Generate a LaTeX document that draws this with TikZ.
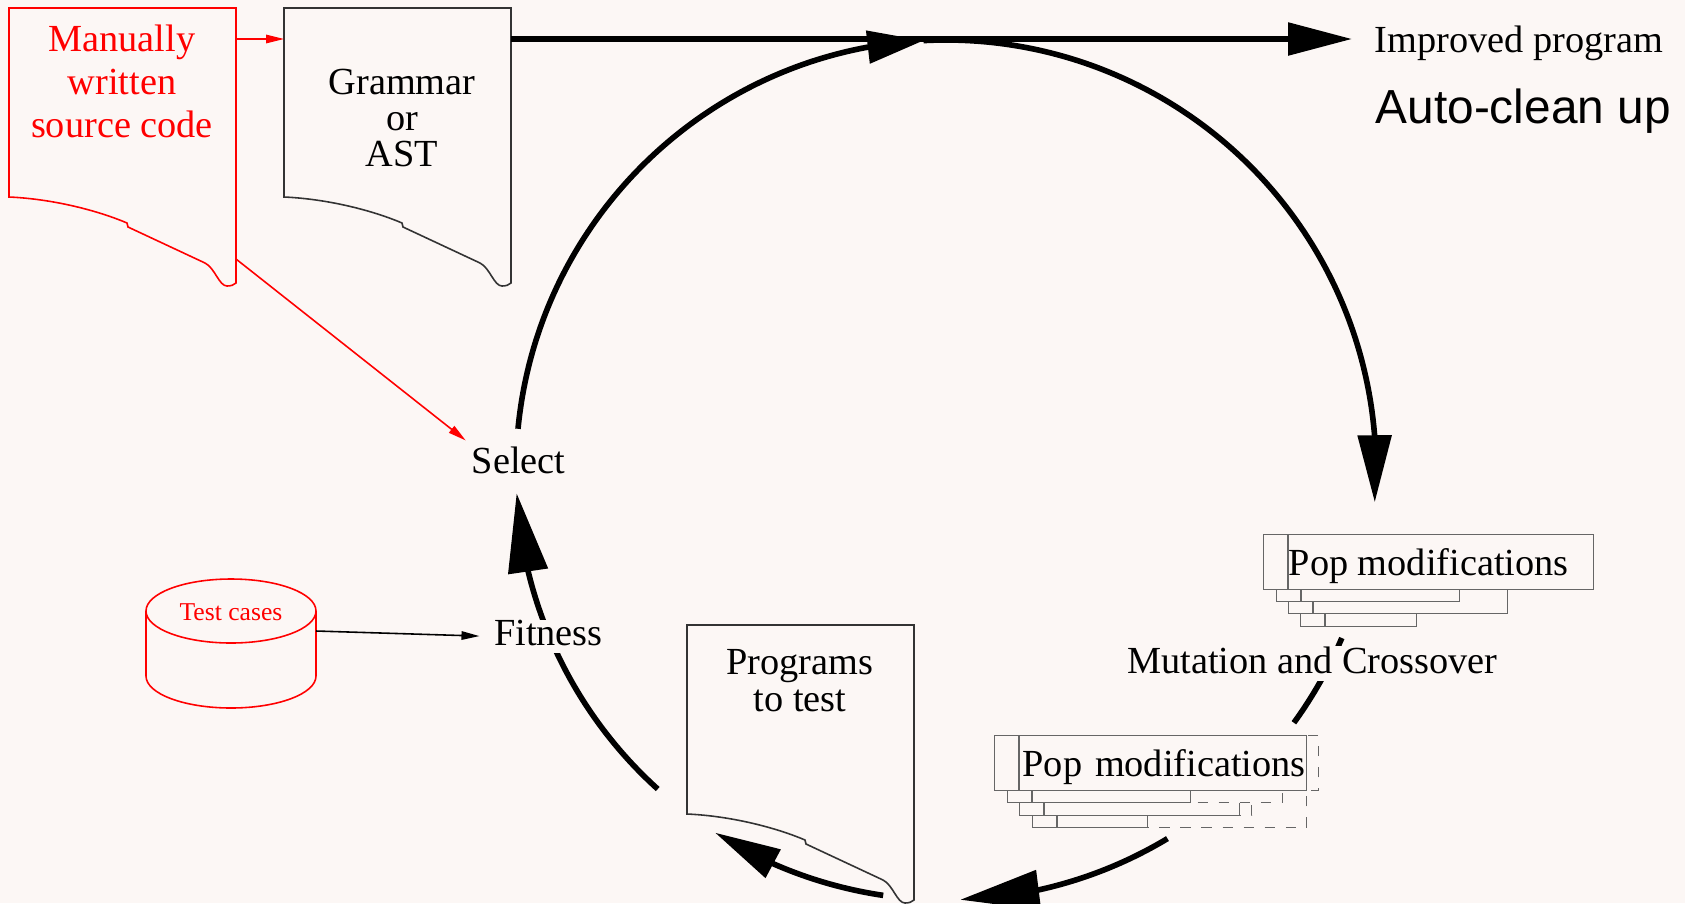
\documentclass[tikz,border=0pt]{standalone}
\usepackage{fontspec}
\setmainfont{Liberation Serif}
\setsansfont{Liberation Sans}
\usetikzlibrary{arrows.meta,bending}

\definecolor{paper}{RGB}{252,247,245}

\begin{document}
\begin{tikzpicture}[
    font = \fontsize{10.9pt}{12.2pt}\selectfont,
    bigline/.style = {line width = 1.6pt},
    docline/.style = {line width = 0.45pt},
    smalltip/.style = {-{Triangle[length=1.8mm, width=0.85mm]}},
    cover/.style = {inner xsep = 1.5pt, inner ysep = 0pt, text depth = 0.075cm, fill = paper},
    popcard/.style = {draw = black!60, fill = paper, line width = 0.4pt,
      minimum height = 0.55cm, inner sep = 0pt, anchor = north west,
      text depth = 0pt,
      path picture = {\draw[black!60, line width = 0.6pt]
        ([xshift = 0.245cm]path picture bounding box.north west) --
        ([xshift = 0.245cm]path picture bounding box.south west);}},
    ghostcard/.style = {popcard, dashed},
  ]

  % background
  \fill[paper] (0,0) rectangle (16.85,-9.03);
  \useasboundingbox (0,0) rectangle (16.85,-9.03);

  % Manually written source code
  \begin{scope}[shift={(0.09,-0.08)}, red]
    \draw[docline] (0,0) -- (2.27,0) -- (2.27,-2.75)
      .. controls (2.25,-2.77) and (2.22,-2.78) .. (2.18,-2.78)
      .. controls (2.10,-2.78) and (2.06,-2.60) .. (1.96,-2.55)
      -- (1.19,-2.19) -- (1.18,-2.15)
      .. controls (0.90,-2.03) and (0.45,-1.91) .. (0,-1.89) -- cycle;
    \node[align=center, font=\fontsize{10.9pt}{12.2pt}\selectfont] (src) at (1.13,-0.735) {Manually\\written\\source code};
    \coordinate (src-e) at (2.27,-0.31);
    \coordinate (src-se) at (2.27,-2.51);
  \end{scope} % Manually written source code

  % Grammar or AST
  \begin{scope}[shift={(2.84,-0.08)}]
    \draw[docline, black!80] (0,0) -- (2.27,0) -- (2.27,-2.75)
      .. controls (2.25,-2.77) and (2.22,-2.78) .. (2.18,-2.78)
      .. controls (2.10,-2.78) and (2.06,-2.60) .. (1.96,-2.55)
      -- (1.19,-2.19) -- (1.18,-2.15)
      .. controls (0.90,-2.03) and (0.45,-1.91) .. (0,-1.89) -- cycle;
    \node[align=center, font=\fontsize{10.9pt}{10.2pt}\selectfont] (gram) at (1.18,-1.10) {Grammar\\or\\AST};
    \coordinate (gram-w) at (0,-0.31);
    \coordinate (gram-e) at (2.27,-0.31);
  \end{scope} % Grammar or AST

  % Programs to test
  \begin{scope}[shift={(6.87,-6.25)}]
    \draw[docline, black!80] (0,0) -- (2.27,0) -- (2.27,-2.75)
      .. controls (2.25,-2.77) and (2.22,-2.78) .. (2.18,-2.78)
      .. controls (2.10,-2.78) and (2.06,-2.60) .. (1.96,-2.55)
      -- (1.19,-2.19) -- (1.18,-2.15)
      .. controls (0.90,-2.03) and (0.45,-1.91) .. (0,-1.89) -- cycle;
    \node[align=center, font=\fontsize{10.9pt}{10.5pt}\selectfont] (progs) at (1.13,-0.56) {Programs\\to test};
  \end{scope} % Programs to test

  % Test cases
  \begin{scope}[red, docline]
    \draw (2.31,-6.11) ellipse[x radius=0.85, y radius=0.32];
    \draw (1.46,-6.11) -- (1.46,-6.76)
      arc[start angle=180, end angle=360, x radius=0.85, y radius=0.32]
      -- (3.16,-6.11);
  \end{scope}
  \node[red, anchor=base, font=\fontsize{7.3pt}{9pt}\selectfont] (tests) at (2.31,-6.20) {Test cases};
  \coordinate (tests-e) at (3.16,-6.31);

  % population before mutation
  \node[popcard, minimum width=1.16cm] (popA3) at (13.00,-5.71) {};
  \node[popcard, minimum width=2.19cm] (popA2) at (12.88,-5.58) {};
  \node[popcard, minimum width=1.83cm] (popA1) at (12.76,-5.46) {};
  \node[popcard, minimum width=3.30cm] (popA) at (12.63,-5.34) {Pop modifications};

  % population after mutation
  \node[ghostcard, minimum width=2.74cm] (popB3g) at (10.32,-7.72) {};
  \node[popcard, minimum width=1.15cm] (popB3) at (10.32,-7.72) {};
  \node[ghostcard, minimum width=2.32cm] (popB2g) at (10.19,-7.60) {};
  \node[popcard, minimum width=2.20cm] (popB2) at (10.19,-7.60) {};
  \node[ghostcard, minimum width=2.75cm] (popB1g) at (10.07,-7.47) {};
  \node[popcard, minimum width=1.83cm] (popB1) at (10.07,-7.47) {};
  \node[ghostcard, minimum width=3.24cm] (popBg) at (9.94,-7.35) {};
  \node[popcard, minimum width=3.12cm, text width=3.10cm, align=right] (popB) at (9.94,-7.35) {Pop modifications};

  % the evolution loop
  \coordinate (loop) at (9.46,-4.70);
  \draw[bigline, -{Triangle[length=5.6mm, width=3.2mm]}]
    ([shift={(174.5:4.3)}]loop) arc[start angle=174.5, end angle=93, radius=4.3];
  \draw[bigline, -{Triangle[length=6.7mm, width=3.3mm]}]
    ([shift={(93:4.3)}]loop) arc[start angle=93, end angle=-4.3, radius=4.3];
  \draw[bigline]
    ([shift={(-23:4.3)}]loop) arc[start angle=-23, end angle=-36, radius=4.3];
  \draw[bigline, -{Triangle[length=7.9mm, width=3.9mm]}]
    ([shift={(-59:4.3)}]loop) arc[start angle=-59, end angle=-88.1, radius=4.3];
  \draw[bigline, -{Triangle[length=6.6mm, width=3.1mm]}]
    ([shift={(261.6:4.3)}]loop) arc[start angle=261.6, end angle=237.5, radius=4.3];
  \draw[bigline, -{Triangle[length=7.9mm, width=3.9mm]}]
    ([shift={(227.9:4.3)}]loop) arc[start angle=227.9, end angle=183.1, radius=4.3];

  \node[anchor=base, inner sep=1.5pt] (select) at (5.185,-4.73) {Select};
  \node[cover, anchor=base, inner xsep=4pt] (fitness) at (5.485,-6.45) {Fitness};
  \node[cover, anchor=base] (mutation) at (13.125,-6.73) {Mutation and Crossover};

  % output
  \node[anchor=west, inner xsep=2.2mm, text depth=0pt] (improved) at (13.52,-0.39) {Improved program};
  \node[anchor=base west, inner sep=0pt, font=\sffamily\fontsize{13.6pt}{16pt}\selectfont] (cleanup) at (13.75,-1.23) {Auto-clean up};

  % connectors
  \draw[docline, red, smalltip] (src-e) -- (gram-w);
  \draw[docline, red, smalltip] (src-se) -- (select.north west);
  \draw[docline, smalltip] (tests-e) -- (fitness.west);
  \draw[bigline, -{Triangle[length=6.4mm, width=3.2mm]}] (gram-e) -- (improved.west);
\end{tikzpicture}
\end{document}
